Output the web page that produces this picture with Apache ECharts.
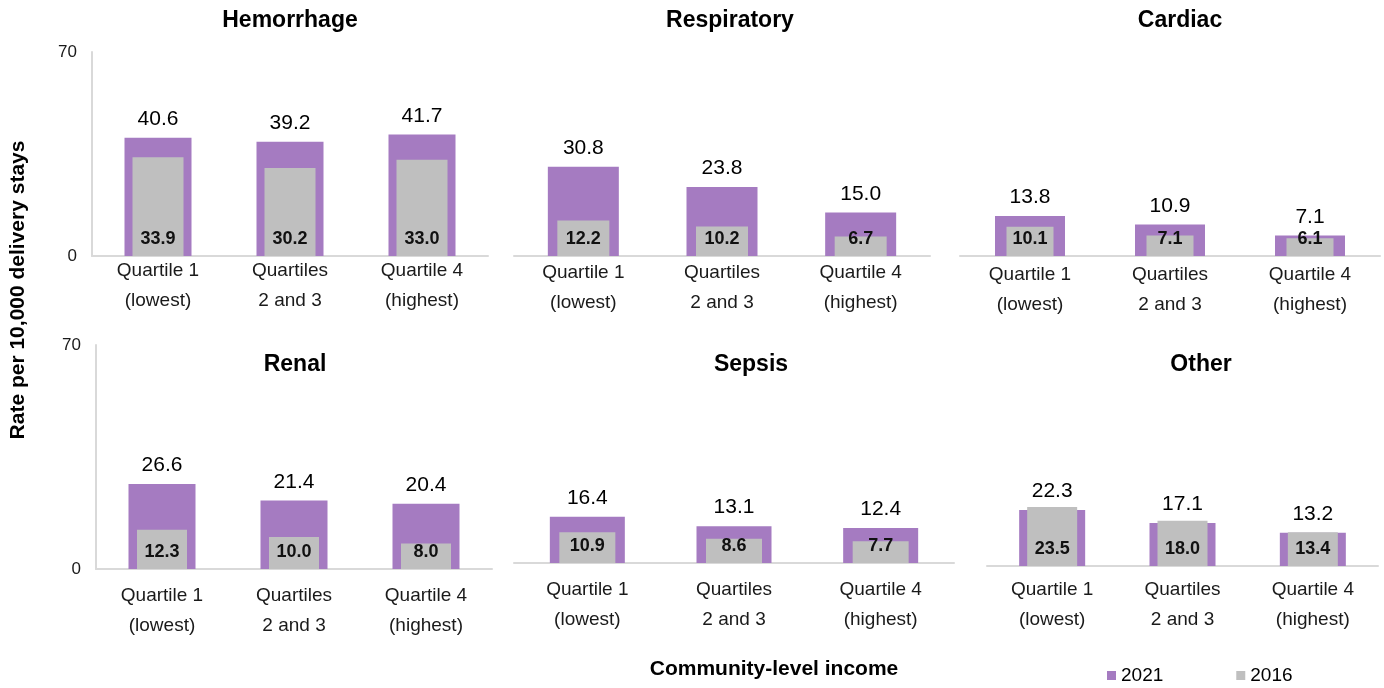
<!DOCTYPE html>
<html>
<head>
<meta charset="utf-8">
<title>Severe maternal morbidity by community-level income</title>
<script src="https://cdn.jsdelivr.net/npm/echarts@6/dist/echarts.min.js"></script>
<style>
  html, body { margin: 0; padding: 0; background: #ffffff; }
  #chart { width: 1384px; height: 688px; }
</style>
</head>
<body>
<div id="chart"></div>
<script>
// Income groups shown on every panel's x axis
const categories = ['Quartile 1\n(lowest)', 'Quartiles\n2 and 3', 'Quartile 4\n(highest)'];
const panelNames = ['Hemorrhage', 'Respiratory', 'Cardiac', 'Renal', 'Sepsis', 'Other'];
const seriesNames = ['2021', '2016'];
const yTicks = [0, 70];

// Rates per 10,000 delivery stays
const hemorrhage2021 = [40.6, 39.2, 41.7];
const hemorrhage2016 = [33.9, 30.2, 33.0];
const respiratory2021 = [30.8, 23.8, 15.0];
const respiratory2016 = [12.2, 10.2, 6.7];
const cardiac2021 = [13.8, 10.9, 7.1];
const cardiac2016 = [10.1, 7.1, 6.1];
const renal2021 = [26.6, 21.4, 20.4];
const renal2016 = [12.3, 10.0, 8.0];
const sepsis2021 = [16.4, 13.1, 12.4];
const sepsis2016 = [10.9, 8.6, 7.7];
const other2021 = [22.3, 17.1, 13.2];
const other2016 = [23.5, 18.0, 13.4];

const values2021 = [hemorrhage2021, respiratory2021, cardiac2021, renal2021, sepsis2021, other2021];
const values2016 = [hemorrhage2016, respiratory2016, cardiac2016, renal2016, sepsis2016, other2016];

// Panel geometry (pixels)
const layout = [
  { left: 92,  top: 52,  width: 396, height: 204, wide: 67, narrow: 51, margin: 0,  showY: true,  tx: 290,  ty: 21 },
  { left: 514, top: 53,  width: 416, height: 203, wide: 71, narrow: 52, margin: 2,  showY: false, tx: 730,  ty: 21 },
  { left: 960, top: 53,  width: 420, height: 203, wide: 70, narrow: 47, margin: 4,  showY: false, tx: 1180, ty: 21 },
  { left: 96,  top: 345, width: 396, height: 224, wide: 67, narrow: 50, margin: 12, showY: true,  tx: 295,  ty: 365 },
  { left: 514, top: 366, width: 440, height: 197, wide: 75, narrow: 56, margin: 12, showY: false, tx: 751,  ty: 365 },
  { left: 987, top: 390, width: 391, height: 176, wide: 66, narrow: 50, margin: 9,  showY: false, tx: 1201, ty: 365 }
];

const PURPLE = '#a57bc1';
const GRAY = '#bfbfbf';
const FONT = '"Liberation Sans", Arial, Helvetica, sans-serif';
const AXIS_LINE = '#d9d9d9';

const grid = [], xAxis = [], yAxis = [], series = [], graphic = [];

layout.forEach(function (p, i) {
  grid.push({ left: p.left, top: p.top, width: p.width, height: p.height });

  // visible category axis (2021 bars)
  xAxis.push({
    type: 'category', gridIndex: i, data: categories,
    axisLine: { show: true, lineStyle: { color: AXIS_LINE, width: 2 } },
    axisTick: { show: false },
    axisLabel: {
      interval: 0, margin: p.margin, fontSize: 19, lineHeight: 30,
      color: '#1a1a1a', fontFamily: FONT
    }
  });
  // overlaid category axis so 2016 bars sit centred in the same bands
  xAxis.push({ type: 'category', gridIndex: i, data: categories, show: false });

  yAxis.push({
    type: 'value', gridIndex: i, min: yTicks[0], max: yTicks[1], interval: yTicks[1] - yTicks[0],
    show: p.showY,
    axisLine: { show: true, lineStyle: { color: AXIS_LINE, width: 2 } },
    axisTick: { show: false },
    splitLine: { show: false },
    axisLabel: { margin: 15, fontSize: 17, color: '#1a1a1a', fontFamily: FONT }
  });

  series.push({
    type: 'bar', name: seriesNames[0], xAxisIndex: 2 * i, yAxisIndex: i,
    data: values2021[i], barWidth: p.wide, z: 2,
    itemStyle: { color: PURPLE },
    label: {
      show: true, position: 'top', distance: 8,
      fontSize: 21, color: '#000', fontFamily: FONT,
      formatter: function (d) { return Number(d.value).toFixed(1); }
    }
  });
  series.push({
    type: 'bar', name: seriesNames[1], xAxisIndex: 2 * i + 1, yAxisIndex: i,
    data: values2016[i], barWidth: p.narrow, z: 3,
    itemStyle: { color: GRAY },
    label: {
      show: true, position: 'insideBottom', distance: 8,
      fontSize: 18, fontWeight: 'bold', color: '#111', fontFamily: FONT,
      formatter: function (d) { return Number(d.value).toFixed(1); }
    }
  });

  graphic.push({
    type: 'text', x: p.tx, y: p.ty,
    style: {
      text: panelNames[i], align: 'center', verticalAlign: 'middle',
      font: 'bold 23px ' + FONT, fill: '#000'
    }
  });
});

graphic.push({
  type: 'text', x: 18, y: 290, rotation: Math.PI / 2,
  style: {
    text: 'Rate per 10,000 delivery stays', align: 'center', verticalAlign: 'middle',
    font: 'bold 21px ' + FONT, fill: '#000'
  }
});
graphic.push({
  type: 'text', x: 774, y: 669,
  style: {
    text: 'Community-level income', align: 'center', verticalAlign: 'middle',
    font: 'bold 21px ' + FONT, fill: '#000'
  }
});

const chart = echarts.init(document.getElementById('chart'), null, { renderer: 'canvas' });
chart.setOption({
  animation: false,
  backgroundColor: '#ffffff',
  grid: grid,
  xAxis: xAxis,
  yAxis: yAxis,
  series: series,
  graphic: graphic,
  legend: {
    data: seriesNames,
    left: 1107, top: 666, padding: 0,
    icon: 'rect', itemWidth: 9, itemHeight: 9, itemGap: 73,
    textStyle: { fontSize: 19, color: '#000', fontFamily: FONT }
  }
});
</script>
</body>
</html>
